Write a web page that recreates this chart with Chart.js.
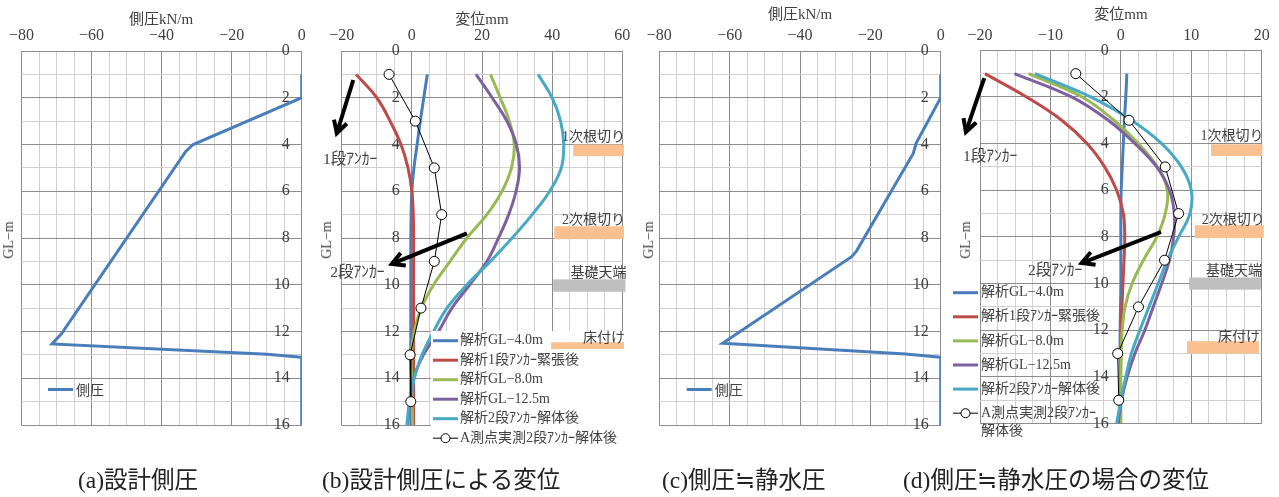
<!DOCTYPE html>
<html><head><meta charset="utf-8">
<script src="https://cdn.jsdelivr.net/npm/chart.js@4.4.1/dist/chart.umd.min.js"></script>
<style>
html,body{margin:0;padding:0;background:#fff;width:1279px;height:497px;overflow:hidden;}
#wrap{position:relative;width:1279px;height:497px;}
canvas{position:absolute;top:0;}
.t{position:absolute;white-space:nowrap;color:#404040;font-family:'Liberation Serif','Noto Sans CJK JP',serif;}
.ttl{font-size:15px;line-height:16px;transform:translateX(-50%);}
.gl{font-size:14px;line-height:14px;transform:translate(-50%,-50%) rotate(-90deg);}
.cap{font-size:23.5px;line-height:24px;color:#222;}
</style></head><body>
<div id="wrap">
<canvas id="ca" width="320" height="497" style="left:0px"></canvas>
<canvas id="cb" width="320" height="497" style="left:320px"></canvas>
<canvas id="cc" width="320" height="497" style="left:640px"></canvas>
<canvas id="cd" width="334" height="497" style="left:945px"></canvas>
<div class="t ttl" style="left:161px;top:11px">側圧kN/m</div>
<div class="t ttl" style="left:482px;top:11px">変位mm</div>
<div class="t ttl" style="left:800px;top:6px">側圧kN/m</div>
<div class="t ttl" style="left:1121px;top:6px">変位mm</div>
<div class="t gl" style="left:9px;top:240px">GL−m</div>
<div class="t gl" style="left:327px;top:240px">GL−m</div>
<div class="t gl" style="left:649px;top:240px">GL−m</div>
<div class="t gl" style="left:966px;top:240px">GL−m</div>
<div class="t cap" style="left:78px;top:468px">(a)設計側圧</div>
<div class="t cap" style="left:322px;top:468px">(b)設計側圧による変位</div>
<div class="t cap" style="left:662px;top:468px">(c)側圧≒静水圧</div>
<div class="t cap" style="left:903px;top:468px">(d)側圧≒静水圧の場合の変位</div>
</div>
<script>
// ---------- data ----------
const depthDesign    = [1, 2, 4, 4.3, 12.1, 12.53, 12.97, 13.1, 16];
const pressureDesign = [0, 0, -31.0, -33.1, -68.6, -71.3, -10, 0, 0];
const depthHydro     = [1, 2, 3.95, 4.38, 8.55, 8.8, 12.5, 12.96, 13.1, 16];
const pressureHydro  = [0, 0, -7.0, -7.8, -23.9, -25.3, -62.0, -10, 0, 0];

const depthAnalysis = [1, 2, 3, 4, 5, 6, 7, 8, 9, 10, 11, 12, 13, 14, 15, 16];
const depthMeasured = [1, 3, 5, 7, 9, 11, 13, 15];

// (b) design lateral pressure
const bGL4      = [4.4, 3.4, 2.4, 1.5, 0.6, 0.0, -0.2, -0.3, -0.3, -0.3, -0.3, -0.3, -0.3, -0.3, -0.3, -0.3];
const bAnchor1  = [-15.9, -10.0, -6.2, -3.1, -1.1, 0.0, 0.4, 0.5, 0.5, 0.5, 0.5, 0.5, 0.5, 0.5, 0.5, 0.5];
const bGL8      = [22.4, 25.2, 27.8, 29.2, 28.4, 25.7, 21.4, 15.7, 10.9, 6.2, 2.7, 0.7, -0.2, 0.0, 0.1, 0.2];
const bGL125    = [18.3, 22.9, 27.1, 29.8, 30.7, 29.7, 27.6, 24.7, 21.4, 16.5, 11.4, 7.6, 3.3, 0.5, -0.5, -1.3];
const bRemoval2 = [36.0, 40.0, 42.4, 43.3, 42.6, 39.3, 34.3, 28.6, 22.4, 15.7, 10.0, 6.2, 2.9, 0.7, -0.7, -1.4];
const bMeasured = [-6.5, 1.0, 6.4, 8.5, 6.4, 2.6, -0.5, -0.3];

// (d) hydrostatic lateral pressure
const dGL4      = [0.85, 0.7, 0.5, 0.35, 0.2, 0.05, 0, 0, 0, 0, -0.05, -0.1, -0.1, -0.1, -0.1, -0.1];
const dAnchor1  = [-19.3, -13.4, -8.4, -4.8, -2.3, -0.6, 0.35, 0.55, 0.45, 0.3, 0.15, 0.05, 0, -0.05, -0.1, -0.1];
const dGL8      = [-13.1, -5.5, -1.0, 2.5, 5.2, 6.6, 6.3, 5.1, 3.2, 1.6, 0.6, 0.2, 0.05, 0, 0, 0];
const dGL125    = [-15.1, -7.0, -1.8, 2.0, 5.1, 6.9, 7.6, 7.5, 6.9, 5.8, 4.6, 3.4, 2.0, 0.9, 0.1, -0.4];
const dRemoval2 = [-12.2, -4.3, 1.5, 5.8, 8.6, 10.0, 9.8, 8.2, 6.6, 5.3, 4.0, 2.7, 1.5, 0.7, 0.0, -0.6];
const dMeasured = [-6.4, 1.15, 6.3, 8.2, 6.2, 2.5, -0.45, -0.3];

const depthTicks = [0, 2, 4, 6, 8, 10, 12, 14, 16];

const seriesNames = ['解析GL−4.0m', '解析1段ｱﾝｶｰ緊張後', '解析GL−8.0m', '解析GL−12.5m', '解析2段ｱﾝｶｰ解体後', 'A測点実測2段ｱﾝｶｰ解体後'];

// annotation items in data coordinates (value, depth)
const stagesB = [
  {text: '1次根切り', x1: 46, x2: 60.5, y1: 4.0, y2: 4.5, ty: 3.68, kind: 'cut'},
  {text: '2次根切り', x1: 40.6, x2: 60.5, y1: 7.5, y2: 8.05, ty: 7.23, kind: 'cut'},
  {text: '基礎天端', x1: 40.3, x2: 60.9, y1: 9.77, y2: 10.3, ty: 9.5, kind: 'base'},
  {text: '床付け', x1: 39.7, x2: 60.5, y1: 12.46, y2: 12.75, ty: 12.28, kind: 'cut'}
];
const stagesD = [
  {text: '1次根切り', x1: 12.8, x2: 20.1, y1: 4.03, y2: 4.53, ty: 3.7, kind: 'cut'},
  {text: '2次根切り', x1: 10.5, x2: 20.3, y1: 7.5, y2: 8.05, ty: 7.27, kind: 'cut'},
  {text: '基礎天端', x1: 9.7, x2: 19.9, y1: 9.74, y2: 10.26, ty: 9.49, kind: 'base'},
  {text: '床付け', x1: 9.4, x2: 19.6, y1: 12.47, y2: 13.0, ty: 12.3, kind: 'cut'}
];
const anchorsB = [
  {text: '1段ｱﾝｶｰ', fromX: -16.7, fromY: 1.24, toX: -21.4, toY: 3.52, lx: -25.3, ly: 4.66},
  {text: '2段ｱﾝｶｰ', fromX: 15.7, fromY: 7.8, toX: -5.7, toY: 9.11, lx: -23.3, ly: 9.5}
];
const anchorsD = [
  {text: '1段ｱﾝｶｰ', fromX: -19.4, fromY: 1.19, toX: -22.0, toY: 3.5, lx: -22.4, ly: 4.56},
  {text: '2段ｱﾝｶｰ', fromX: 5.7, fromY: 7.79, toX: -5.56, toY: 9.12, lx: -13.2, ly: 9.45}
];

// ---------- styles ----------
const BLUE = '#4A7EBB', RED = '#BE4B48', GREEN = '#98B954', PURPLE = '#7D60A0', CYAN = '#46AAC5';
const ORANGE = '#FAC090', GREY = '#BFBFBF';
const DARK = '#8c8c8c', LIGHT = '#d0d0d0', TXT = '#404040';
const LABEL_FONT = "14px 'Liberation Serif', 'Noto Sans CJK JP'";

const fmt = v => (v < 0 ? '\u2212' + Math.abs(v) : String(v));
const pts = (vals, depths) => vals.map((v, i) => ({x: v, y: depths[i]}));

function line(label, vals, depths, color, order, extra) {
  return Object.assign({
    label, data: pts(vals, depths), showLine: true, borderColor: color, backgroundColor: color,
    borderWidth: 3, pointRadius: 0, tension: 0.4, order
  }, extra || {});
}
function measured(label, vals) {
  return {
    label, data: pts(vals, depthMeasured), showLine: true, borderColor: '#000', borderWidth: 1,
    pointRadius: 5, pointBackgroundColor: '#fff', pointBorderColor: '#000', pointBorderWidth: 1,
    tension: 0, order: 0
  };
}

function overlay(cfg) {
  return {
    id: 'overlay',
    afterDatasetsDraw(chart) {
      const c = chart.ctx, xs = chart.scales.x, ys = chart.scales.y;
      c.save();
      const lg = cfg.legend;
      if (lg) {
        if (lg.bg) { c.fillStyle = '#fff'; c.fillRect(lg.bg[0], lg.bg[1], lg.bg[2], lg.bg[3]); }
        c.font = lg.font; c.textBaseline = 'middle'; c.textAlign = 'left';
        lg.items.forEach((it, i) => {
          const y = lg.y + i * lg.dy;
          c.strokeStyle = it.color; c.lineWidth = it.w;
          c.beginPath(); c.moveTo(lg.x, y); c.lineTo(lg.x + lg.len, y); c.stroke();
          if (it.marker) {
            c.beginPath(); c.arc(lg.x + lg.len / 2, y, 4.5, 0, Math.PI * 2);
            c.fillStyle = '#fff'; c.fill(); c.lineWidth = 1; c.strokeStyle = '#000'; c.stroke();
          }
          c.fillStyle = TXT;
          it.text.split('\n').forEach((ln, j) => c.fillText(ln, lg.x + lg.len + lg.gap, y + j * (lg.lh || lg.dy)));
        });
      }
      (cfg.stages || []).forEach(s => {
        const x1 = xs.getPixelForValue(s.x1), x2 = xs.getPixelForValue(s.x2);
        const y1 = ys.getPixelForValue(s.y1), y2 = ys.getPixelForValue(s.y2);
        c.fillStyle = s.kind === 'base' ? GREY : ORANGE;
        c.fillRect(x1, y1, x2 - x1, y2 - y1);
        c.font = LABEL_FONT; c.fillStyle = TXT; c.textAlign = 'right'; c.textBaseline = 'middle';
        c.fillText(s.text, Math.max(x1, x2) + 1, ys.getPixelForValue(s.ty));
      });
      (cfg.anchors || []).forEach(a => {
        const fx = xs.getPixelForValue(a.fromX), fy = ys.getPixelForValue(a.fromY);
        const tx = xs.getPixelForValue(a.toX), ty = ys.getPixelForValue(a.toY);
        c.strokeStyle = '#000'; c.lineWidth = 4; c.lineCap = 'butt'; c.lineJoin = 'miter';
        c.beginPath(); c.moveTo(fx, fy); c.lineTo(tx, ty); c.stroke();
        const ang = Math.atan2(ty - fy, tx - fx), L = 14, h = 0.5;
        c.beginPath();
        c.moveTo(tx - L * Math.cos(ang - h), ty - L * Math.sin(ang - h));
        c.lineTo(tx, ty);
        c.lineTo(tx - L * Math.cos(ang + h), ty - L * Math.sin(ang + h));
        c.stroke();
        c.font = "15.5px 'Liberation Serif', 'Noto Sans CJK JP'"; c.fillStyle = TXT;
        c.textAlign = 'left'; c.textBaseline = 'middle';
        c.fillText(a.text, xs.getPixelForValue(a.lx), ys.getPixelForValue(a.ly));
      });
      c.restore();
    }
  };
}

function makePanel(id, cfg) {
  const isMajor = v => Math.abs(v % cfg.major) < 1e-9;
  const tickFont = {family: "'Liberation Serif'", size: 16};
  return new Chart(document.getElementById(id), {
    type: 'scatter',
    data: {datasets: cfg.datasets},
    options: {
      responsive: false, devicePixelRatio: 1, animation: false,
      layout: {padding: cfg.padding},
      plugins: {legend: {display: false}, tooltip: {enabled: false}},
      scales: {
        x: {
          type: 'linear', position: 'top', min: cfg.min, max: cfg.max,
          ticks: {stepSize: cfg.step, autoSkip: false, maxRotation: 0, padding: 5.4, color: TXT, font: tickFont,
                  callback: v => isMajor(v) ? fmt(v) : ''},
          grid: {color: ctx => isMajor(ctx.tick.value) ? DARK : LIGHT, lineWidth: 1, drawTicks: false},
          border: {display: true, color: DARK}
        },
        y: {
          type: 'linear', min: 0, max: 16, reverse: true, position: {x: 0},
          ticks: {stepSize: 1, autoSkip: false, padding: 0, color: TXT, font: tickFont,
                  // trailing spaces keep the right-aligned label clear of the axis line
                  callback: v => depthTicks.includes(v) ? String(v) + '   ' : ''},
          grid: {color: ctx => depthTicks.includes(ctx.tick.value) ? DARK : LIGHT, lineWidth: 1, drawTicks: false},
          border: {display: true, color: DARK}
        }
      }
    },
    plugins: [overlay(cfg)]
  });
}

const pressureLegend = (x) => ({x, y: 389.5, len: 25, gap: 3, dy: 20, font: "14px 'Noto Sans CJK JP'",
  items: [{text: '側圧', color: BLUE, w: 3}]});

makePanel('ca', {
  min: -80, max: 0, step: 5, major: 20,
  padding: {left: 21.5, right: 18.3, top: 21, bottom: 72},
  datasets: [line('側圧', pressureDesign, depthDesign, BLUE, 0, {tension: 0})],
  legend: pressureLegend(48)
});

const dispLegendItems = [
  {text: seriesNames[0], color: BLUE, w: 3},
  {text: seriesNames[1], color: RED, w: 3},
  {text: seriesNames[2], color: GREEN, w: 3},
  {text: seriesNames[3], color: PURPLE, w: 3},
  {text: seriesNames[4], color: CYAN, w: 3},
  {text: seriesNames[5], color: '#000', w: 1, marker: true}
];

makePanel('cb', {
  min: -20, max: 60, step: 5, major: 20,
  padding: {left: 21.7, right: 17.7, top: 21, bottom: 72},
  datasets: [
    line(seriesNames[0], bGL4, depthAnalysis, BLUE, 5),
    line(seriesNames[1], bAnchor1, depthAnalysis, RED, 4),
    line(seriesNames[2], bGL8, depthAnalysis, GREEN, 3),
    line(seriesNames[3], bGL125, depthAnalysis, PURPLE, 2),
    line(seriesNames[4], bRemoval2, depthAnalysis, CYAN, 1),
    measured(seriesNames[5], bMeasured)
  ],
  stages: stagesB, anchors: anchorsB,
  legend: {x: 113, y: 340.7, len: 25, gap: 2, dy: 19.5, font: LABEL_FONT, bg: [111, 331, 195, 117], items: dispLegendItems}
});

makePanel('cc', {
  min: -80, max: 0, step: 5, major: 20,
  padding: {left: 19.3, right: 19.3, top: 21, bottom: 72},
  datasets: [line('側圧', pressureHydro, depthHydro, BLUE, 0, {tension: 0})],
  legend: pressureLegend(46.7)
});

const dLegendItems = dispLegendItems.map((it, i) => i === 5 ? Object.assign({}, it, {text: 'A測点実測2段ｱﾝｶｰ\n解体後'}) : it);
makePanel('cd', {
  min: -20, max: 20, step: 2.5, major: 10,
  padding: {left: 35, right: 17.3, top: 20.3, bottom: 73.5},
  datasets: [
    line(seriesNames[0], dGL4, depthAnalysis, BLUE, 5),
    line(seriesNames[1], dAnchor1, depthAnalysis, RED, 4),
    line(seriesNames[2], dGL8, depthAnalysis, GREEN, 3),
    line(seriesNames[3], dGL125, depthAnalysis, PURPLE, 2),
    line(seriesNames[4], dRemoval2, depthAnalysis, CYAN, 1),
    measured(seriesNames[5], dMeasured)
  ],
  stages: stagesD, anchors: anchorsD,
  legend: {x: 8, y: 292.7, len: 25, gap: 3, dy: 24.1, lh: 18.4, font: LABEL_FONT, items: dLegendItems}
});
</script>
</body></html>
